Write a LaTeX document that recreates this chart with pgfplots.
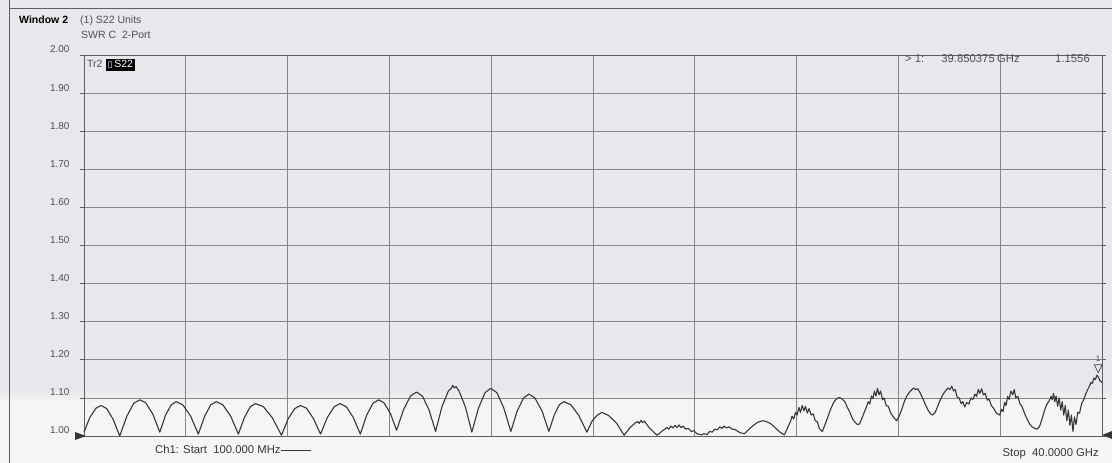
\documentclass[border=0pt]{standalone}
\usepackage{fontspec}
\setmainfont{Liberation Sans}
\newfontfamily\symfont{DejaVu Sans}
\usepackage{pgfplots}
\pgfplotsset{compat=1.18}

\definecolor{paper}{RGB}{232,232,236}
\definecolor{paperlow}{RGB}{245,245,246}
\definecolor{gridc}{RGB}{135,135,138}
\definecolor{tracec}{RGB}{55,55,58}
\definecolor{labc}{RGB}{80,80,84}
\newcommand\fs{\fontsize{10.5}{12}\selectfont}
\newcommand\fb{\fontsize{11.3}{13}\selectfont}

\begin{document}
\begin{tikzpicture}[x=1pt,y=1pt]
\useasboundingbox (0,0) rectangle (1112,463);
\fill[paper] (0,0) rectangle (1112,463);
\shade[top color=paper, bottom color=paperlow] (0,60) rectangle (1112,74);
\fill[paperlow] (0,0) rectangle (1112,60.2);
% page frame
\draw[gridc!70!black, line width=0.9pt] (9,0) -- (9,463);
\draw[gridc!70!black, line width=0.9pt] (9,455) -- (1112,455);

\begin{axis}[
  at={(84pt,27pt)}, anchor=south west, scale only axis,
  width=1018pt, height=381pt,
  xmin=0.1, xmax=40, ymin=1, ymax=2,
  xtick={0.1,4.09,8.08,12.07,16.06,20.05,24.04,28.03,32.02,36.01,40},
  xticklabels={},
  ytick={1,1.1,1.2,1.3,1.4,1.5,1.6,1.7,1.8,1.9,2},
  grid=major,
  major grid style={gridc, line width=0.7pt},
  axis line style={gridc!70!black, line width=0.8pt},
  tick align=outside,
  x tick style={draw=none},
  y tick style={gridc!70!black, line width=0.7pt},
  major tick length=4pt,
  /pgf/number format/assume math mode=true,
  yticklabel style={/pgf/number format/fixed, /pgf/number format/fixed zerofill,
    /pgf/number format/precision=2, font=\fontsize{10}{12}\selectfont, text=labc,
    anchor=base east, yshift=2pt, xshift=-7pt},
  clip=false,
]
% S22 SWR trace, 100 MHz - 40 GHz
\addplot[tracec, line width=1.1pt, line join=round] coordinates {
(0.10,1.010) (0.33,1.049) (0.57,1.073) (0.77,1.080) (0.99,1.072) (1.24,1.044)
(1.50,1.000) (1.78,1.052) (2.05,1.086) (2.29,1.095) (2.52,1.087) (2.80,1.057)
(3.07,1.010) (3.29,1.054) (3.52,1.082) (3.71,1.090) (3.97,1.082) (4.28,1.052)
(4.58,1.005) (4.83,1.052) (5.07,1.082) (5.28,1.090) (5.54,1.082) (5.85,1.052)
(6.15,1.005) (6.39,1.049) (6.62,1.077) (6.82,1.085) (7.13,1.077) (7.48,1.048)
(7.84,1.002) (8.10,1.045) (8.36,1.072) (8.58,1.080) (8.82,1.073) (9.09,1.046)
(9.37,1.005) (9.64,1.049) (9.91,1.077) (10.14,1.085) (10.38,1.077) (10.65,1.049)
(10.93,1.005) (11.18,1.055) (11.43,1.086) (11.65,1.095) (11.86,1.087) (12.11,1.059)
(12.35,1.015) (12.63,1.070) (12.90,1.105) (13.05,1.112) (13.14,1.115) (13.36,1.105) (13.62,1.069)
(13.88,1.012) (14.13,1.077) (14.38,1.118) (14.50,1.125) (14.55,1.133) (14.62,1.126) (14.68,1.130) (14.80,1.118) (15.05,1.076)
(15.30,1.010) (15.56,1.073) (15.82,1.114) (16.04,1.125) (16.28,1.114) (16.55,1.074)
(16.83,1.012) (17.08,1.066) (17.33,1.100) (17.54,1.110) (17.77,1.100) (18.05,1.066)
(18.32,1.012) (18.53,1.055) (18.73,1.082) (18.91,1.090) (19.18,1.082) (19.49,1.054)
(19.81,1.010) (20.02,1.040) (20.22,1.055) (20.40,1.062) (20.66,1.054) (20.97,1.034)
(21.27,1.002) (21.50,1.022) (21.70,1.034) (21.80,1.038) (21.86,1.033) (21.93,1.041) (22.00,1.035) (22.06,1.039) (22.25,1.022) (22.40,1.012)
(22.56,1.002) (22.80,1.015) (22.95,1.022) (23.02,1.018) (23.10,1.026) (23.18,1.021) (23.26,1.028) (23.34,1.022) (23.42,1.029) (23.50,1.022) (23.58,1.026) (23.68,1.018) (23.78,1.020) (23.90,1.012) (24.00,1.014) (24.12,1.006)
(24.29,1.003) (24.40,1.006) (24.52,1.004) (24.62,1.012) (24.72,1.010) (24.82,1.018) (24.92,1.016) (25.02,1.024) (25.10,1.020) (25.19,1.026) (25.28,1.021) (25.38,1.024) (25.50,1.018) (25.62,1.017) (25.75,1.011) (25.85,1.008)
(25.98,1.006) (26.20,1.020) (26.30,1.026) (26.40,1.031) (26.50,1.036) (26.60,1.038) (26.70,1.040) (26.80,1.039) (26.90,1.036) (27.00,1.033) (27.12,1.026) (27.25,1.018) (27.40,1.009)
(27.55,1.003) (27.70,1.025) (27.80,1.040) (27.85,1.052) (27.92,1.045) (27.98,1.062) (28.05,1.055) (28.12,1.075) (28.18,1.062) (28.25,1.080) (28.32,1.066) (28.38,1.078) (28.45,1.060) (28.52,1.072) (28.60,1.055) (28.68,1.058) (28.76,1.040) (28.84,1.038) (28.92,1.020)
(29.04,1.012) (29.20,1.040) (29.35,1.068) (29.48,1.088) (29.60,1.098) (29.71,1.101) (29.82,1.097) (29.92,1.090) (30.02,1.075) (30.12,1.062) (30.22,1.045) (30.32,1.036)
(30.42,1.030) (30.50,1.032) (30.58,1.045) (30.68,1.062) (30.76,1.075) (30.84,1.090) (30.90,1.084) (30.96,1.105) (31.02,1.098) (31.08,1.118) (31.14,1.105) (31.20,1.125) (31.26,1.108) (31.32,1.118) (31.40,1.095) (31.46,1.100) (31.54,1.080) (31.62,1.078) (31.72,1.060) (31.82,1.050)
(31.95,1.040) (32.05,1.052) (32.15,1.070) (32.25,1.090) (32.35,1.105) (32.45,1.115) (32.55,1.122) (32.62,1.126) (32.70,1.122) (32.78,1.124) (32.88,1.112) (32.98,1.098) (33.08,1.082) (33.18,1.068) (33.28,1.058)
(33.36,1.055) (33.46,1.062) (33.56,1.078) (33.66,1.095) (33.76,1.108) (33.86,1.118) (33.96,1.126) (34.04,1.122) (34.11,1.131) (34.18,1.118) (34.25,1.122) (34.32,1.102) (34.40,1.100) (34.48,1.085) (34.55,1.090)
(34.62,1.076) (34.70,1.088) (34.78,1.084) (34.86,1.100) (34.94,1.096) (35.02,1.110) (35.08,1.104) (35.15,1.122) (35.21,1.112) (35.28,1.124) (35.35,1.108) (35.42,1.112) (35.50,1.094) (35.58,1.096) (35.66,1.080) (35.76,1.072) (35.86,1.060)
(35.99,1.055) (36.06,1.070) (36.12,1.064) (36.18,1.088) (36.24,1.080) (36.30,1.104) (36.36,1.096) (36.43,1.118) (36.50,1.108) (36.56,1.122) (36.62,1.100) (36.70,1.104) (36.78,1.085) (36.86,1.078) (36.96,1.060) (37.06,1.045) (37.16,1.032) (37.26,1.024) (37.36,1.020)
(37.45,1.018) (37.55,1.025) (37.65,1.045) (37.75,1.068) (37.85,1.085) (37.93,1.092) (38.00,1.104) (38.05,1.095) (38.10,1.112) (38.15,1.090) (38.20,1.105) (38.26,1.078) (38.32,1.100) (38.38,1.068) (38.44,1.090) (38.50,1.055) (38.56,1.080) (38.62,1.040) (38.68,1.068) (38.74,1.028) (38.80,1.055)
(38.86,1.012) (38.92,1.050) (38.98,1.030) (39.05,1.062) (39.12,1.060) (39.20,1.085) (39.28,1.095) (39.36,1.110) (39.44,1.122) (39.50,1.130) (39.56,1.140) (39.62,1.138) (39.68,1.152) (39.74,1.148) (39.80,1.160) (39.86,1.154) (39.92,1.145) (40.00,1.140)
};
% marker 1
\draw[tracec, line width=0.6pt] ([yshift=4pt]axis cs:39.85,1.1556) -- ++(-4pt,8pt) -- ++(8pt,0pt) -- cycle;
\node[font=\fontsize{8}{9}\selectfont, text=labc] at ([yshift=18pt]axis cs:39.85,1.1556) {1};
\end{axis}

% header
\node[anchor=base west, inner sep=0pt, font=\fs\bfseries] at (19,439) {Window 2};
\node[anchor=base west, inner sep=0pt, font=\fs, text=labc] at (80,439) {(1) S22 Units};
\node[anchor=base west, inner sep=0pt, font=\fs, text=labc] at (81,424) {SWR C\ \ 2-Port};
\node[anchor=base west, inner sep=0pt, font=\fs, text=labc] at (87,395) {Tr2};
\node[anchor=base west, inner sep=1.5pt, fill=black, text=white, font=\fs] at (106,395) {{\symfont\fontsize{9}{10}\selectfont ▯}\,S22};
% marker readout
\node[anchor=base west, inner sep=0pt, font=\fb, text=labc] at (905,400) {> 1:};
\node[anchor=base east, inner sep=0pt, font=\fb, text=labc] at (995,400) {39.850375};
\node[anchor=base west, inner sep=0pt, font=\fb, text=labc] at (997,400) {GHz};
\node[anchor=base east, inner sep=0pt, font=\fb, text=labc] at (1090,400) {1.1556};
% footer
\node[anchor=base west, inner sep=0pt, font=\fb, text=tracec] at (155,9) {Ch1: Start\ \ 100.000 MHz};
\draw[tracec, line width=0.9pt] (281,13) -- (311,13);
\node[anchor=base east, inner sep=0pt, font=\fb, text=tracec] at (1099,6) {Stop\ \ 40.0000 GHz};
\fill[tracec] (75,31) -- (86,27) -- (75,23) -- cycle;
\fill[tracec] (1102,28) -- (1112,32) -- (1112,24) -- cycle;
\end{tikzpicture}
\end{document}
